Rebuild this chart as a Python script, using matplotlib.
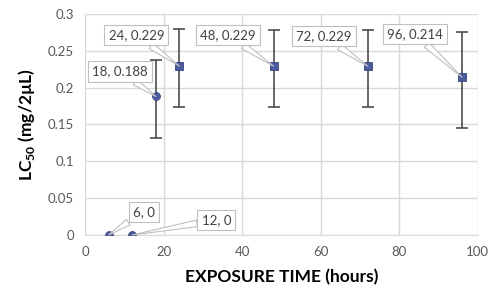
import numpy as np
import matplotlib
matplotlib.use("Agg")
import matplotlib.pyplot as plt

plt.rcParams['font.family'] = ['Lato', 'DejaVu Sans']
plt.rcParams['mathtext.fontset'] = 'custom'
plt.rcParams['mathtext.rm'] = 'Lato'
plt.rcParams['mathtext.bf'] = 'Lato:bold'

# data
hours = [6, 12, 18, 24, 48, 72, 96]
lc50 = [0, 0, 0.188, 0.229, 0.229, 0.229, 0.214]
err_low = [0, 0, 0.056, 0.055, 0.055, 0.055, 0.069]
err_high = [0, 0, 0.049, 0.051, 0.049, 0.049, 0.062]
has_err = [False, False, True, True, True, True, True]
labels = ["6, 0", "12, 0", "18, 0.188", "24, 0.229", "48, 0.229", "72, 0.229", "96, 0.214"]

# label offsets (pixels, from the point to the box centre)
offsets = [(35, 23), (84, 15), (-36, 25), (-43, 31), (-46, 31), (-44, 30), (-47, 43)]

fig = plt.figure(figsize=(5.04, 3.02), dpi=100)
ax = fig.add_axes([0.169, 0.222, 0.779, 0.732])

grid_col = "#d9d9d9"
ax.set_xlim(0, 100)
ax.set_ylim(0, 0.3)
ax.set_xticks(np.arange(0, 101, 20))
ax.set_yticks(np.arange(0, 0.301, 0.05))
ax.set_yticklabels(["0", "0.05", "0.1", "0.15", "0.2", "0.25", "0.3"])
ax.grid(True, color=grid_col, linewidth=1)
ax.set_axisbelow(True)
for s in ["top", "right", "left"]:
    ax.spines[s].set_visible(False)
ax.spines["bottom"].set_color(grid_col)
ax.tick_params(length=0, labelsize=9.5, colors="#595959", pad=8)

# error bars
xe = [h for h, e in zip(hours, has_err) if e]
ye = [v for v, e in zip(lc50, has_err) if e]
lo = [v for v, e in zip(err_low, has_err) if e]
hi = [v for v, e in zip(err_high, has_err) if e]
ax.errorbar(xe, ye, yerr=[lo, hi], fmt="none", ecolor="#4d4d4d",
            elinewidth=1.2, capsize=4, capthick=1.2, zorder=3)

marker_col = "#4a5a9c"
ax.scatter(hours[:3], lc50[:3], marker="o", s=32, color=marker_col,
           edgecolor="#3a4780", linewidth=0.6, zorder=4)
ax.scatter(hours[3:], lc50[3:], marker="s", s=28, color=marker_col,
           edgecolor="#3a4780", linewidth=0.6, zorder=4)

for h, v, lab, off in zip(hours, lc50, labels, offsets):
    ax.annotate(lab, xy=(h, v), xytext=off, textcoords="offset pixels",
                ha="center", va="center", fontsize=9.5, color="#404040",
                bbox=dict(boxstyle="square,pad=0.32", fc="white", ec="#bfbfbf", lw=0.8),
                arrowprops=dict(arrowstyle="wedge,tail_width=0.5,shrink_factor=0.5",
                                fc="white", ec="#bfbfbf", lw=0.8,
                                shrinkA=0, shrinkB=0),
                zorder=5, annotation_clip=False)

ax.set_xlabel("EXPOSURE TIME (hours)", fontsize=12.5, fontweight="bold", labelpad=8)
ax.set_ylabel("LC$_{\\mathbf{50}}$ (mg/2µL)", fontsize=12.5, fontweight="bold", labelpad=8)

fig.savefig("out.png", dpi=100)
